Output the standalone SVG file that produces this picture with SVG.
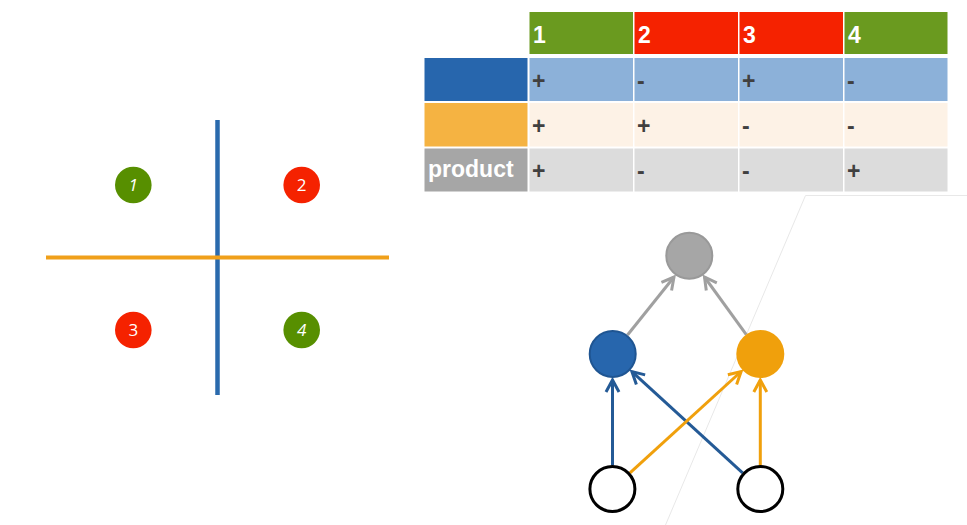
<svg xmlns="http://www.w3.org/2000/svg" width="967" height="525" viewBox="0 0 967 525">
<style>
.hdr{font-family:"Liberation Sans",Arial,sans-serif;font-weight:bold;font-size:23px;fill:#ffffff}
.sym{font-family:"Liberation Sans",Arial,sans-serif;font-weight:bold;font-size:23px;fill:#404040}
.qn{font-family:"Open Sans","Liberation Sans",sans-serif;font-size:17px;fill:#ffffff;text-anchor:middle}
.grn{fill:#6a9a1f}.red{fill:#f52200}
.c1{fill:#8cb1d9}.c2{fill:#fdf2e6}.c3{fill:#dcdcdc}
.conn{fill:none;stroke-width:3}
</style>
<defs>
<marker id="aGray" markerUnits="userSpaceOnUse" viewBox="-15 -9 18 18" refX="0" refY="0" markerWidth="18" markerHeight="18" orient="auto" overflow="visible"><path d="M-12,-6.5 L0,0 L-12,6.5" fill="none" stroke="#a0a0a0" stroke-width="3"/></marker>
<marker id="aBlue" markerUnits="userSpaceOnUse" viewBox="-15 -9 18 18" refX="0" refY="0" markerWidth="18" markerHeight="18" orient="auto" overflow="visible"><path d="M-12,-6.5 L0,0 L-12,6.5" fill="none" stroke="#245a96" stroke-width="3"/></marker>
<marker id="aOrange" markerUnits="userSpaceOnUse" viewBox="-15 -9 18 18" refX="0" refY="0" markerWidth="18" markerHeight="18" orient="auto" overflow="visible"><path d="M-12,-6.5 L0,0 L-12,6.5" fill="none" stroke="#f0a00c" stroke-width="3"/></marker>
</defs>
<rect width="967" height="525" fill="#ffffff"/>

<!-- faint background lines -->
<g id="bg-lines" stroke="#e8e8e8" stroke-width="1" fill="none">
<path d="M967,195.5 L805.5,195.5 L665.5,525"/>
</g>

<!-- table -->
<g id="table">
<rect x="529.5" y="12" width="103.5" height="42" class="grn"/>
<rect x="634.5" y="12" width="103.5" height="42" class="red"/>
<rect x="739.5" y="12" width="103.5" height="42" class="red"/>
<rect x="844.5" y="12" width="103" height="42" class="grn"/>
<text x="533" y="43" class="hdr">1</text>
<text x="638" y="43" class="hdr">2</text>
<text x="743" y="43" class="hdr">3</text>
<text x="848" y="43" class="hdr">4</text>

<rect x="424.5" y="58" width="103" height="43" fill="#2766ad"/>
<rect x="529.5" y="58" width="103.5" height="43" class="c1"/>
<rect x="634.5" y="58" width="103.5" height="43" class="c1"/>
<rect x="739.5" y="58" width="103.5" height="43" class="c1"/>
<rect x="844.5" y="58" width="103" height="43" class="c1"/>
<text x="532" y="89" class="sym">+</text>
<text x="637" y="89" class="sym">-</text>
<text x="742" y="89" class="sym">+</text>
<text x="847" y="89" class="sym">-</text>

<rect x="424.5" y="103" width="103" height="43.5" fill="#f5b342"/>
<rect x="529.5" y="103" width="103.5" height="43.5" class="c2"/>
<rect x="634.5" y="103" width="103.5" height="43.5" class="c2"/>
<rect x="739.5" y="103" width="103.5" height="43.5" class="c2"/>
<rect x="844.5" y="103" width="103" height="43.5" class="c2"/>
<text x="532" y="134" class="sym">+</text>
<text x="637" y="134" class="sym">+</text>
<text x="742" y="134" class="sym">-</text>
<text x="847" y="134" class="sym">-</text>

<rect x="424.5" y="148.5" width="103" height="43" fill="#a6a6a6"/>
<rect x="529.5" y="148.5" width="103.5" height="43" class="c3"/>
<rect x="634.5" y="148.5" width="103.5" height="43" class="c3"/>
<rect x="739.5" y="148.5" width="103.5" height="43" class="c3"/>
<rect x="844.5" y="148.5" width="103" height="43" class="c3"/>
<text x="428" y="177" class="hdr">product</text>
<text x="532" y="179" class="sym">+</text>
<text x="637" y="179" class="sym">-</text>
<text x="742" y="179" class="sym">-</text>
<text x="847" y="179" class="sym">+</text>
</g>

<!-- quadrant diagram -->
<g id="quadrants">
<line x1="217.5" y1="120" x2="217.5" y2="395" stroke="#2a6aad" stroke-width="4.5"/>
<line x1="46" y1="257.5" x2="389" y2="257.5" stroke="#f0a01a" stroke-width="4"/>
</g>
<g id="q1"><circle cx="133.3" cy="185" r="18.3" fill="#578f00"/><text x="133.3" y="191" class="qn" font-style="italic">1</text></g>
<g id="q2"><circle cx="301.7" cy="185" r="18.3" fill="#f52200"/><text x="301.7" y="191" class="qn">2</text></g>
<g id="q3"><circle cx="133.3" cy="330" r="18.3" fill="#f52200"/><text x="133.3" y="336" class="qn">3</text></g>
<g id="q4"><circle cx="301.7" cy="330" r="18.3" fill="#578f00"/><text x="301.7" y="336" class="qn" font-style="italic">4</text></g>

<!-- network connectors -->
<g id="connectors">
<line x1="627.5" y1="335" x2="674" y2="277" class="conn" stroke="#a0a0a0" marker-end="url(#aGray)"/>
<line x1="746.3" y1="334.6" x2="704.5" y2="277" class="conn" stroke="#a0a0a0" marker-end="url(#aGray)"/>
<line x1="612.5" y1="465.5" x2="612.5" y2="380" class="conn" stroke="#245a96" marker-end="url(#aBlue)"/>
<line x1="742.6" y1="472.8" x2="631.9" y2="371.6" class="conn" stroke="#245a96" marker-end="url(#aBlue)"/>
<line x1="630" y1="472.8" x2="741.1" y2="371.5" class="conn" stroke="#f0a00c" marker-end="url(#aOrange)"/>
<line x1="760.3" y1="465.5" x2="760.3" y2="380" class="conn" stroke="#f0a00c" marker-end="url(#aOrange)"/>
</g>

<!-- network nodes -->
<g id="n-product"><circle cx="689.3" cy="255.7" r="23" fill="#a6a6a6" stroke="#999999" stroke-width="2"/></g>
<g id="n-blue"><circle cx="612.7" cy="354" r="23" fill="#2766ad" stroke="#1f5592" stroke-width="2"/></g>
<g id="n-orange"><circle cx="760.3" cy="354" r="24" fill="#f0a00c"/></g>
<g id="n-in1"><circle cx="612.4" cy="489" r="22.5" fill="#ffffff" stroke="#000000" stroke-width="3"/></g>
<g id="n-in2"><circle cx="760.3" cy="489" r="22.5" fill="#ffffff" stroke="#000000" stroke-width="3"/></g>
</svg>
